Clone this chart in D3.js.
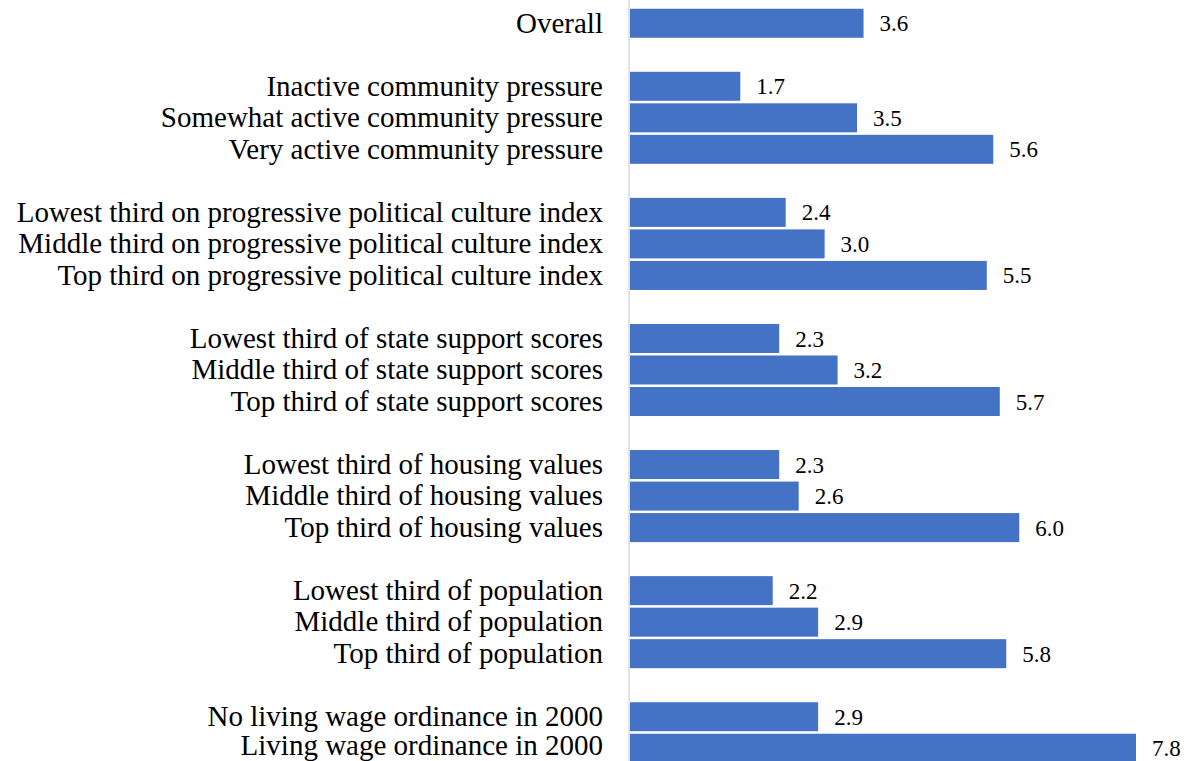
<!doctype html>
<html>
<head>
    <style>
        body { margin: 0; background: #fff; }
        .bar { fill: #4472c4; }
        .label { font-family: "Liberation Serif", "Times New Roman", serif; font-size: 29px; fill: #000; }
        .value { font-family: "Liberation Serif", "Times New Roman", serif; font-size: 23px; fill: #000; }
    </style>
    <script src="https://d3js.org/d3.v7.min.js"></script>
</head>
<body>
<svg width="1187" height="761"></svg>
<script>

    // rows in order; "" marks a blank spacer row between groups
    var categories = [
        "Overall", "",
        "Inactive community pressure",
        "Somewhat active community pressure",
        "Very active community pressure", "",
        "Lowest third on progressive political culture index",
        "Middle third on progressive political culture index",
        "Top third on progressive political culture index", "",
        "Lowest third of state support scores",
        "Middle third of state support scores",
        "Top third of state support scores", "",
        "Lowest third of housing values",
        "Middle third of housing values",
        "Top third of housing values", "",
        "Lowest third of population",
        "Middle third of population",
        "Top third of population", "",
        "No living wage ordinance in 2000",
        "Living wage ordinance in 2000"
    ];
    var values = [
        3.6, null,
        1.7, 3.5, 5.6, null,
        2.4, 3.0, 5.5, null,
        2.3, 3.2, 5.7, null,
        2.3, 2.6, 6.0, null,
        2.2, 2.9, 5.8, null,
        2.9, 7.8
    ];

    var svg = d3.select("svg"),
        axisX = 629,
        plotTop = 7.5,
        plotBottom = 764;

    var rows = categories.map(function(c, i) { return { key: i, name: c, value: values[i] }; });

    var yScale = d3.scaleBand()
        .domain(rows.map(function(d) { return d.key; }))
        .range([plotTop, plotBottom])
        .paddingInner(0.08)
        .paddingOuter(0.04);

    var xScale = d3.scaleLinear().domain([0, 7.8]).range([axisX + 1, 1136]);

    var data = rows.filter(function(d) { return d.value !== null; });
    var lastKey = data[data.length - 1].key;

    svg.selectAll(".bar")
       .data(data)
       .enter().append("rect")
       .attr("class", "bar")
       .attr("x", xScale(0))
       .attr("y", function(d) { return yScale(d.key); })
       .attr("width", function(d) { return xScale(d.value) - xScale(0); })
       .attr("height", yScale.bandwidth());

    svg.selectAll(".value")
       .data(data)
       .enter().append("text")
       .attr("class", "value")
       .attr("x", function(d) { return xScale(d.value) + 16; })
       .attr("y", function(d) { return yScale(d.key) + yScale.bandwidth() / 2; })
       .attr("dy", "0.35em")
       .text(function(d) { return d3.format(".1f")(d.value); });

    // last row sits at the bottom edge, nudge it up a little so descenders stay visible
    svg.selectAll(".label")
       .data(data)
       .enter().append("text")
       .attr("class", "label")
       .attr("x", 603)
       .attr("y", function(d) { return yScale(d.key) + yScale.bandwidth() / 2; })
       .attr("dy", function(d) { return d.key === lastKey ? "0.22em" : "0.32em"; })
       .attr("text-anchor", "end")
       .text(function(d) { return d.name; });

    // category axis line
    svg.append("line")
       .attr("x1", axisX).attr("x2", axisX)
       .attr("y1", 0).attr("y2", 761)
       .attr("stroke", "#d9d9d9")
       .attr("stroke-width", 1.5);
</script>
</body>
</html>
